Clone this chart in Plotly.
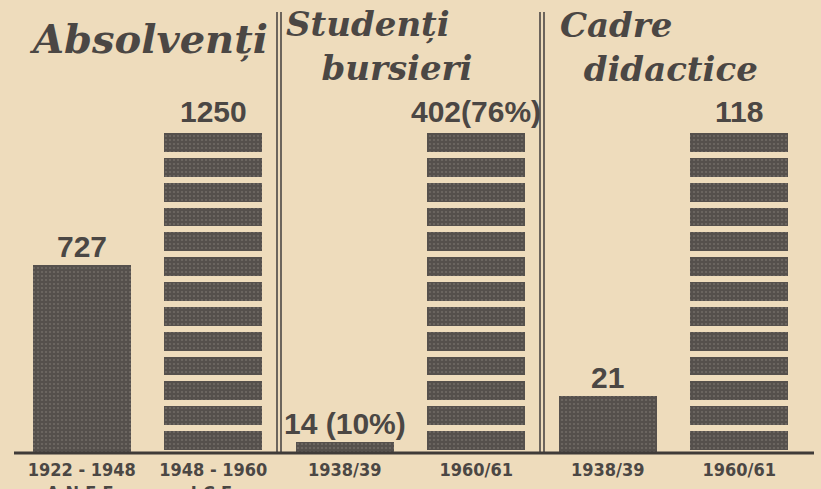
import plotly.graph_objects as go

# ---------------- data ----------------
group_titles = ["Absolvenți", "Studenți<br>&nbsp;&nbsp;&nbsp;bursieri", "Cadre<br>&nbsp;&nbsp;didactice"]
period_labels = ["1922 - 1948<br>A.N.E.F.", "1948 - 1960<br>I.C.F.",
                 "1938/39", "1960/61", "1938/39", "1960/61"]
values = [727, 1250, 14, 402, 21, 118]
value_labels = ["727", "1250", "14 (10%)", "402(76%)", "21", "118"]
bar_group = [0, 0, 1, 1, 2, 2]          # which panel each bar belongs to
striped = [False, True, False, True, False, True]

# ---------------- style ----------------
BG = "#eedcbc"
INK = "#4b4744"
BAR = "#55504c"
N_STRIPES = 13
W, H = 821, 489
ML, MR, MT, MB = 16, 16, 110, 36
PW, PH = W - ML - MR, H - MT - MB
HEADROOM = PH / 323.0

def px(xp):
    return (xp - ML) / PW

def py(yp):
    return (H - MB - yp) / PH

axis_names = ["y", "y2", "y3"]
pattern = dict(shape=".", fgcolor="#8a837b", bgcolor=BAR, size=4, solidity=0.22)

fig = go.Figure()
for i, v in enumerate(values):
    ax = axis_names[bar_group[i]]
    if striped[i]:
        for k in range(N_STRIPES):
            fig.add_trace(go.Bar(
                x=[i], y=[v / N_STRIPES], yaxis=ax, width=0.79,
                marker=dict(color=BAR, line=dict(color=BG, width=6), pattern=pattern),
                hoverinfo="skip", showlegend=False))
    else:
        fig.add_trace(go.Bar(
            x=[i], y=[v], yaxis=ax, width=0.745,
            marker=dict(color=BAR, line=dict(width=0), pattern=pattern),
            hoverinfo="skip", showlegend=False))

# value labels above bars
for i, (v, lab) in enumerate(zip(values, value_labels)):
    yref = "y" if bar_group[i] == 0 else "y%d" % (bar_group[i] + 1)
    fig.add_annotation(x=i, y=v, xref="x", yref=yref, text=lab, showarrow=False,
                       yanchor="bottom", yshift=0,
                       font=dict(family="Liberation Sans", size=30, color=INK, weight="bold"))

# handwritten-style titles
title_anchor = [(148, 38, "center", 40), (284, 46, "left", 34), (558, 47, "left", 34)]
for t, (xx, yy, anc, fs) in zip(group_titles, title_anchor):
    fig.add_annotation(x=px(xx), y=py(yy), xref="paper", yref="paper", text=t,
                       showarrow=False, xanchor=anc, yanchor="middle", align="left",
                       font=dict(family="DejaVu Serif", size=fs, color=INK,
                                 style="italic", weight="bold"))

# panel dividers (double lines) and baseline
for div in (1.5, 3.5):
    xc = (div + 0.5) / 6.0
    for off in (-2.0 / PW, 2.0 / PW):
        fig.add_shape(type="line", xref="paper", yref="paper",
                      x0=xc + off, x1=xc + off, y0=0, y1=py(12),
                      line=dict(color=INK, width=1.6), layer="above")
fig.add_shape(type="line", xref="paper", yref="paper", x0=px(14), x1=px(814), y0=0, y1=0,
              line=dict(color="#3f3b38", width=3), layer="above")

yaxis_common = dict(showgrid=False, zeroline=False, showticklabels=False,
                    showline=False, ticks="", fixedrange=True)
fig.update_layout(
    width=W, height=H, margin=dict(l=ML, r=MR, t=MT, b=MB, autoexpand=False),
    paper_bgcolor=BG, plot_bgcolor=BG, barmode="stack", bargap=0,
    xaxis=dict(range=[-0.5, 5.5], tickvals=list(range(len(period_labels))),
               ticktext=period_labels, showgrid=False, zeroline=False, showline=False,
               ticks="", ticklabelstandoff=4, automargin=False, fixedrange=True,
               tickfont=dict(family="DejaVu Sans Condensed, DejaVu Sans", size=18,
                             color=INK, weight="bold")),
    yaxis=dict(range=[0, max(values[0:2]) * HEADROOM], **yaxis_common),
    yaxis2=dict(range=[0, max(values[2:4]) * HEADROOM], overlaying="y", **yaxis_common),
    yaxis3=dict(range=[0, max(values[4:6]) * HEADROOM], overlaying="y", **yaxis_common),
)

page_css = ("document.body.style.margin='0';document.body.style.padding='0';"
            "document.body.style.overflow='hidden';"
            "document.body.style.background='%s';" % BG)
fig.write_html("out.html", post_script=page_css, config={"displayModeBar": False})
